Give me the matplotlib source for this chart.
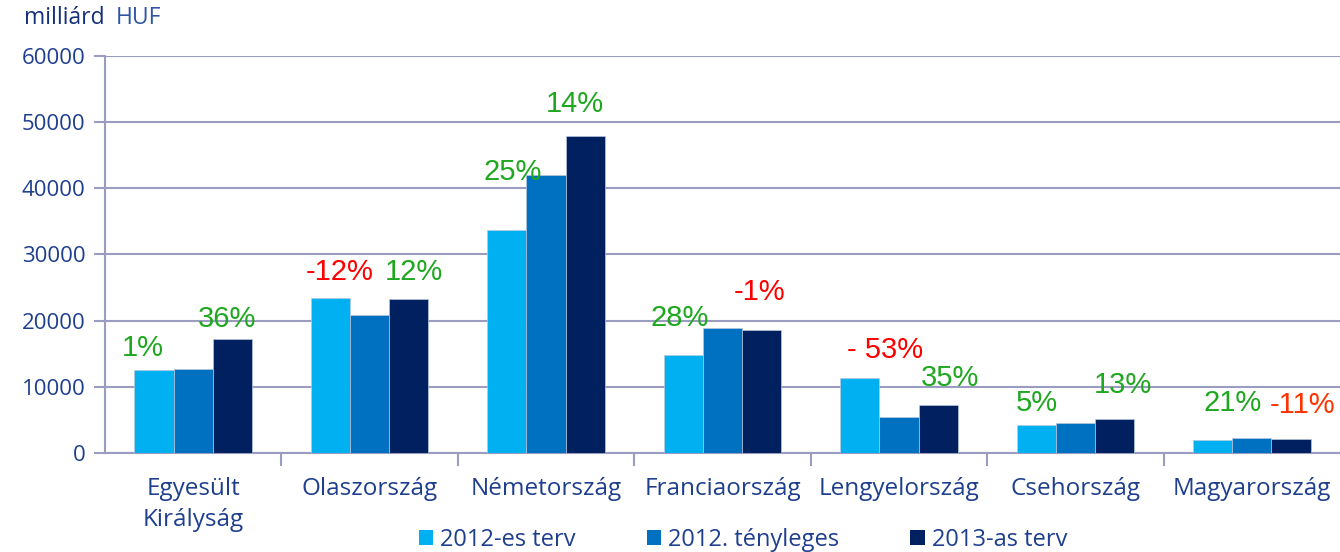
import matplotlib
matplotlib.use("Agg")
import matplotlib.pyplot as plt
import numpy as np
from matplotlib.ticker import FixedLocator, NullFormatter

categories = ["Egyesült\nKirályság", "Olaszország", "Németország", "Franciaország",
              "Lengyelország", "Csehország", "Magyarország"]
series_names = ["2012-es terv", "2012. tényleges", "2013-as terv"]
terv_2012 = [12500, 23500, 33700, 14800, 11400, 4300, 1900]
teny_2012 = [12700, 20800, 42000, 18900, 5400, 4500, 2250]
terv_2013 = [17200, 23200, 47900, 18600, 7200, 5100, 2100]
colors = ["#00B0F0", "#0070C0", "#002060"]

# percent annotations
pct_left = ["1%", "-12%", "25%", "28%", "- 53%", "5%", "21%"]
pct_right = ["36%", "12%", "14%", "-1%", "35%", "13%", "-11%"]
green, red, orange = "#1FA81F", "#FF0000", "#FF3300"
pct_left_col = [green, red, green, green, red, green, green]
pct_right_col = [green, green, green, red, green, green, orange]
left_y = [15800, 27400, 42500, 20400, 15500, 7600, 7600]
left_dx = [-0.285, -0.17, -0.19, -0.24, -0.08, -0.22, -0.11]
right_y = [20300, 27300, 52700, 24300, 11300, 10300, 7200]
right_dx = [0.19, 0.25, 0.165, 0.21, 0.29, 0.27, 0.285]

plt.rcParams['font.family'] = ['Open Sans', 'DejaVu Sans']
fig = plt.figure(figsize=(13.4, 5.52), dpi=100)
ax = fig.add_axes([105/1340, 1-453/552, 1-105/1340, (453-56)/552])

x = np.arange(len(categories))
w = 0.222
grid_c = "#9A9CC0"
text_c = "#1E3E8E"
for i, (vals, c, name) in enumerate(zip([terv_2012, teny_2012, terv_2013], colors, series_names)):
    ax.bar(x + (i-1)*w, vals, w, color=c, edgecolor="#B8C8E0", linewidth=0.5, label=name, zorder=3)

ax.set_xlim(-0.5, len(categories)-0.5)
ax.set_ylim(0, 60000)
ax.set_yticks(np.arange(0, 60001, 10000))
ax.yaxis.grid(True, color=grid_c, linewidth=1.5, zorder=0)
ax.tick_params(axis='y', colors=grid_c, labelcolor=text_c, labelsize=16, length=8, width=1.5, pad=6)
for s in ["top", "right"]:
    ax.spines[s].set_visible(False)
ax.spines["left"].set_color(grid_c)
ax.spines["left"].set_linewidth(1.5)
ax.spines["bottom"].set_color(grid_c)
ax.spines["bottom"].set_linewidth(1.5)

ax.set_xticks(x)
ax.set_xticklabels(categories, fontsize=17.5, color=text_c, linespacing=1.4)
ax.tick_params(axis='x', which='major', length=0, pad=17)
ax.xaxis.set_minor_locator(FixedLocator(np.arange(0.5, len(categories)-0.5, 1)))
ax.xaxis.set_minor_formatter(NullFormatter())
ax.tick_params(axis='x', which='minor', length=9, width=1.5, color=grid_c)

for i in range(len(categories)):
    ax.text(x[i] + left_dx[i], left_y[i], pct_left[i], color=pct_left_col[i],
            fontsize=21, ha='center', va='center', family='Liberation Sans', zorder=5, clip_on=False)
    ax.text(x[i] + right_dx[i], right_y[i], pct_right[i], color=pct_right_col[i],
            fontsize=21, ha='center', va='center', family='Liberation Sans', zorder=5, clip_on=False)

fig.text(24/1340, 1-18/552, "milliárd", fontsize=16.5, color="#15307A", va='center')
fig.text(116/1340, 1-18/552, "HUF", fontsize=16.5, color="#2F56A6", va='center')

leg = fig.legend(loc='center', bbox_to_anchor=(743/1340, 1-540/552), ncol=3, frameon=False,
                 fontsize=17, handlelength=0.62, handleheight=0.62, handletextpad=0.3,
                 columnspacing=3.0, labelcolor=text_c)
for h in leg.legend_handles:
    h.set_edgecolor('none')

fig.savefig("out.png", dpi=100)
